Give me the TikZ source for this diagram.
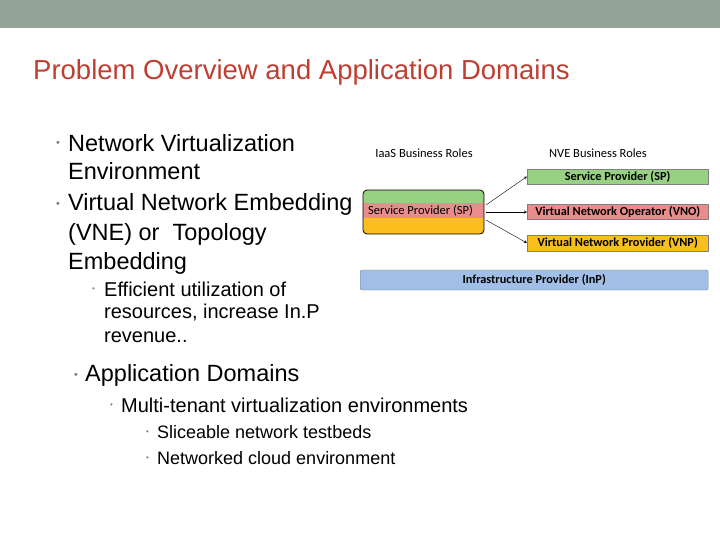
\documentclass[tikz,border=0pt]{standalone}
\usepackage{fontspec}
\setmainfont{Liberation Sans}
\newfontfamily\carl{Carlito}
\definecolor{topbar}{RGB}{149,164,153}
\definecolor{ttl}{RGB}{190,62,50}
\definecolor{gr}{RGB}{150,210,130}
\definecolor{rd}{RGB}{235,140,140}
\definecolor{og}{RGB}{250,190,30}
\definecolor{bl}{RGB}{160,190,230}
\tikzset{txt/.style={anchor=west,inner sep=0pt},
 bul/.style={anchor=west,inner sep=0pt,text=gray,font=\fontsize{11}{12}\selectfont},
 rolebar/.style={draw=gray,anchor=west,inner sep=0pt,font=\carl\bfseries\fontsize{12.3}{13}\selectfont},
 hdr/.style={font=\carl\fontsize{12.5}{14}\selectfont,inner sep=0pt}}
\begin{document}
\begin{tikzpicture}[x=1pt,y=-1pt]
\useasboundingbox (0,0) rectangle (720,540);
\fill[topbar] (0,0) rectangle (720,28);
\node[txt,text=ttl,font=\fontsize{27.5}{30}\selectfont] (title) at (33,72) {Problem Overview and Application Domains};
\begin{scope}[font=\fontsize{23.5}{26}\selectfont]
\node[bul] (b1) at (56,144) {\textbullet};
\node[txt] (t1) at (68,143) {Network Virtualization};
\node[txt] (t1b) at (68,171) {Environment};
\node[bul] (b2) at (56,205) {\textbullet};
\node[txt] (t2) at (68,204) {Virtual Network Embedding};
\node[txt] (t2b) at (68,234) {(VNE) or~ Topology};
\node[txt] (t2c) at (68,263) {Embedding};
\node[bul] (b4) at (74,376) {\textbullet};
\node[txt] (t4) at (85,375) {Application Domains};
\end{scope}
\begin{scope}[font=\fontsize{20}{22}\selectfont]
\node[bul,font=\fontsize{8}{9}\selectfont] (b3) at (92,290) {\textbullet};
\node[txt] (t3) at (104,289) {Efficient utilization of};
\node[txt] (t3b) at (104,313) {resources, increase In.P};
\node[txt] (t3c) at (104,337) {revenue..};
\node[bul,font=\fontsize{8}{9}\selectfont] (b5) at (110,406) {\textbullet};
\node[txt] (t5) at (121,405) {Multi-tenant virtualization environments};
\end{scope}
\begin{scope}[font=\fontsize{18}{20}\selectfont]
\node[bul,font=\fontsize{8}{9}\selectfont] (b6) at (146,433) {\textbullet};
\node[txt] (t6) at (157,432) {Sliceable network testbeds};
\node[bul,font=\fontsize{8}{9}\selectfont] (b7) at (146,459) {\textbullet};
\node[txt] (t7) at (157,458) {Networked cloud environment};
\end{scope}
% diagram
\node[hdr] (h1) at (424,153) {IaaS Business Roles};
\node[hdr] (h2) at (598,153) {NVE Business Roles};
\begin{scope}
\clip[rounded corners=4pt] (363,190) rectangle (484,234);
\fill[gr] (363,190) rectangle (484,203);
\fill[rd] (363,203) rectangle (484,218);
\fill[og] (363,218) rectangle (484,234);
\end{scope}
\draw[rounded corners=4pt,line width=0.8pt] (363,190) rectangle (484,234);
\node[hdr,anchor=west] (sp) at (368,211) {Service Provider (SP)};
\coordinate (o1) at (486,205);
\coordinate (o2) at (486,212);
\coordinate (o3) at (486,220);
\node[rolebar,fill=gr,minimum width=181pt,minimum height=15pt] (r1) at (527,176.5) {Service Provider (SP)};
\node[rolebar,fill=rd,minimum width=181pt,minimum height=15pt] (r2) at (527,212) {Virtual Network Operator (VNO)};
\node[rolebar,fill=og,minimum width=181pt,minimum height=16pt] (r3) at (527,243) {Virtual Network Provider (VNP)};
\node[rolebar,fill=bl,rounded corners=2pt,minimum width=348pt,minimum height=20pt] (inp) at (360,280) {Infrastructure Provider (InP)};
\draw[-stealth,thin] (o1) -- (r1.west);
\draw[-stealth,thin] (o2) -- (r2.west);
\draw[-stealth,thin] (o3) -- (r3.west);
\end{tikzpicture}
\end{document}
